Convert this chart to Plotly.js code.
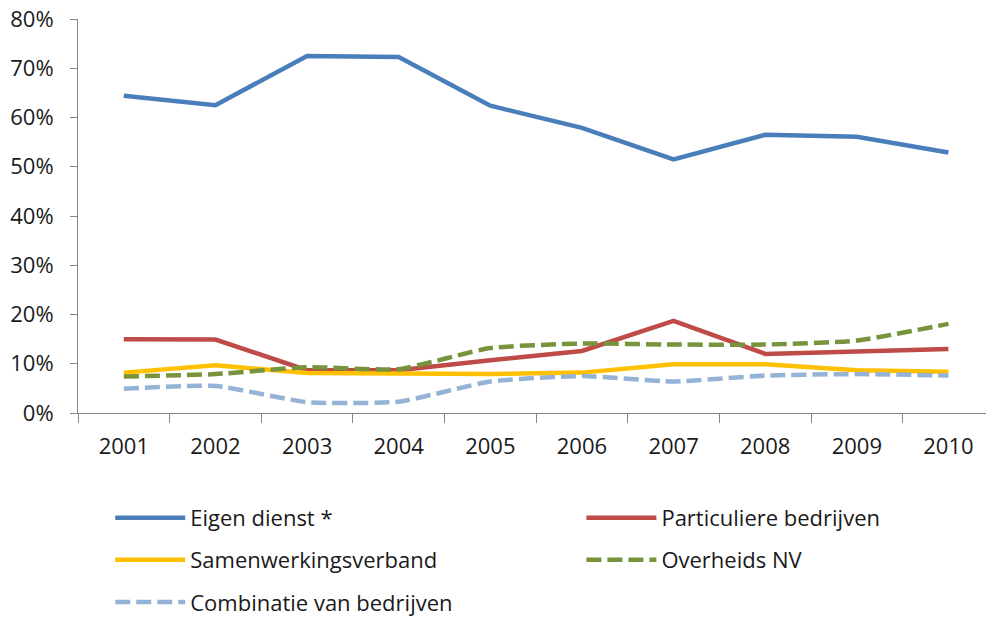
<!DOCTYPE html>
<html><head><meta charset="utf-8">
<script src="https://cdn.plot.ly/plotly-3.0.1.min.js"></script>
<style>html,body{margin:0;padding:0;background:#fff}#chart{width:986px;height:618px}</style>
</head><body><div id="chart"></div>
<script>
const years = ['2001','2002','2003','2004','2005','2006','2007','2008','2009','2010'];
const eigenDienst  = [64.4, 62.5, 72.5, 72.3, 62.4, 57.9, 51.5, 56.5, 56.1, 52.9];
const particuliere = [15.0, 14.9, 8.7, 8.7, 10.7, 12.6, 18.7, 12.0, 12.5, 13.0];
const samenwerking = [8.2, 9.7, 8.1, 8.0, 7.9, 8.2, 9.9, 9.9, 8.7, 8.4];
const overheidsNV  = [7.4, 7.9, 9.3, 8.9, 13.2, 14.1, 13.9, 13.9, 14.7, 18.1];
const combinatie   = [4.9, 5.5, 2.2, 2.3, 6.4, 7.5, 6.4, 7.6, 7.9, 7.6];
const yTickVals = [0, 10, 20, 30, 40, 50, 60, 70, 80];
const yTickText = ['0%','10%','20%','30%','40%','50%','60%','70%','80%'];

const FONT = 'Open Sans, sans-serif';
function tr(name, y, color, dash, legend, group, smooth) {
  return {
    type: 'scatter', mode: 'lines', name: name, x: years, y: y,
    line: {color: color, width: 4.5, dash: dash, shape: smooth ? 'spline' : 'linear', smoothing: 0.5},
    legend: legend, legendgroup: group, hoverinfo: 'skip'
  };
}
const data = [
  tr('Eigen dienst *', eigenDienst, '#4A7EBB', 'solid', 'legend', 'g1', false),
  tr('Particuliere bedrijven', particuliere, '#BE4B48', 'solid', 'legend2', 'g2', false),
  tr('Samenwerkingsverband', samenwerking, '#FFC000', 'solid', 'legend', 'g3', false),
  tr('Overheids NV', overheidsNV, '#77933C', '15px,6px', 'legend2', 'g4', true),
  tr('Combinatie van bedrijven', combinatie, '#95B3D7', '15px,6px', 'legend', 'g5', true)
];
const legendBase = {
  orientation: 'v', xanchor: 'left', yanchor: 'top', itemwidth: 70,
  font: {family: FONT, size: 22, color: '#1a1a1a'}, tracegroupgap: 10.5,
  traceorder: 'grouped', bgcolor: 'rgba(0,0,0,0)', borderwidth: 0
};
const layout = {
  width: 986, height: 618,
  margin: {l: 78, r: 0, t: 19, b: 205, autoexpand: false},
  paper_bgcolor: '#fff', plot_bgcolor: '#fff',
  showlegend: true,
  font: {family: FONT, size: 22, color: '#1a1a1a'},
  xaxis: {
    type: 'category', range: [-0.5, 9.41], tickson: 'boundaries',
    ticks: 'outside', ticklen: 9, tickcolor: '#868686', tickwidth: 1,
    showline: true, linecolor: '#868686', linewidth: 1, showgrid: false, zeroline: false,
    tickfont: {family: FONT, size: 22, color: '#1a1a1a'}, ticklabelstandoff: 14, fixedrange: true
  },
  yaxis: {
    range: [0, 80], tickvals: yTickVals, ticktext: yTickText,
    ticks: 'outside', ticklen: 7, tickcolor: '#868686', tickwidth: 1,
    showline: true, linecolor: '#868686', linewidth: 1, showgrid: false, zeroline: false,
    tickfont: {family: FONT, size: 22, color: '#1a1a1a'}, ticklabelstandoff: 12, fixedrange: true
  },
  legend: Object.assign({}, legendBase, {x: 0.0355, y: -0.213}),
  legend2: Object.assign({}, legendBase, {x: 0.5544, y: -0.213})
};
Plotly.newPlot('chart', data, layout, {displayModeBar: false, staticPlot: true});
</script></body></html>
